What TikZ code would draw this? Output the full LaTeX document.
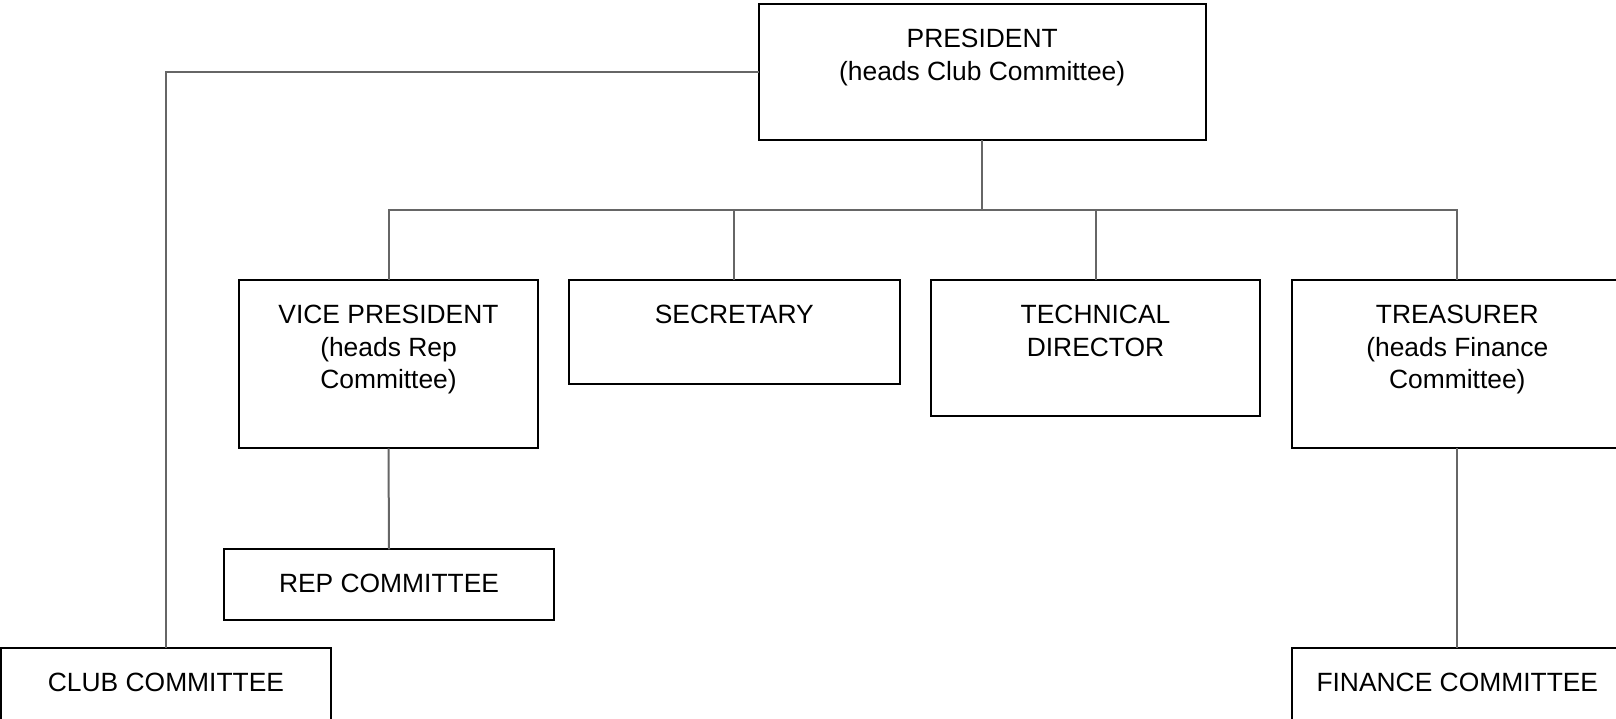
\documentclass[tikz,border=0pt]{standalone}
\usepackage{fontspec}
\setmainfont{Liberation Sans}
\definecolor{connc}{RGB}{102,102,102}
\begin{document}
\begin{tikzpicture}[x=1pt,y=-1pt,
  box/.style={draw=black, line width=2pt, minimum width=330.8pt, inner sep=0pt, outer sep=0pt},
  lbl/.style={anchor=base, align=center, inner sep=0pt, font=\fontsize{26.4}{32.5}\selectfont},
  conn/.style={draw=connc, line width=2pt}]
\useasboundingbox (0,0) rectangle (1616,718);
\clip (0,0) rectangle (1616,718);
% boxes
\node[box, minimum width=447.3pt, minimum height=136.1pt] (pres) at (982.2,72.15) {};
\node[box, minimum width=298.9pt, minimum height=168pt] (vp) at (388.5,364.3) {};
\node[box, minimum height=104.1pt] (sec) at (734.3,332.35) {};
\node[box, minimum width=329.8pt, minimum height=136.1pt] (tech) at (1095.5,348.35) {};
\node[box, minimum height=168pt] (treas) at (1457.3,364.3) {};
\node[box, minimum height=71.1pt] (rep) at (389,584.85) {};
\node[box, minimum height=71.1pt] (club) at (166,684) {};
\node[box, minimum height=71.1pt] (fin) at (1457.3,684) {};
% labels (base anchor = baseline of the last line)
\node[lbl] (presT) at ([yshift=-76pt]pres.north) {PRESIDENT\\(heads Club Committee)};
\node[lbl] (vpT) at ([yshift=-108.5pt]vp.north) {VICE PRESIDENT\\(heads Rep\\Committee)};
\node[lbl] (secT) at ([yshift=-43.5pt]sec.north) {SECRETARY};
\node[lbl] (techT) at ([yshift=-76pt]tech.north) {TECHNICAL\\DIRECTOR};
\node[lbl] (treasT) at ([yshift=-108.5pt]treas.north) {TREASURER\\(heads Finance\\Committee)};
\node[lbl] (repT) at ([yshift=-43.5pt]rep.north) {REP COMMITTEE};
\node[lbl] (clubT) at ([yshift=-43.5pt]club.north) {CLUB COMMITTEE};
\node[lbl] (finT) at ([yshift=-43.5pt]fin.north) {FINANCE COMMITTEE};
% connectors
\coordinate (bus) at (982.2,210.2);
\draw[conn] (pres.south) -- (bus);
\draw[conn] (bus) -| (vp.north);
\draw[conn] (bus) -| (sec.north);
\draw[conn] (bus) -| (tech.north);
\draw[conn] (bus) -| (treas.north);
\draw[conn] (pres.west) -| (club.north);
\draw[conn] (vp.south) -- (rep.north);
\draw[conn] (treas.south) -- (fin.north);
\end{tikzpicture}
\end{document}
